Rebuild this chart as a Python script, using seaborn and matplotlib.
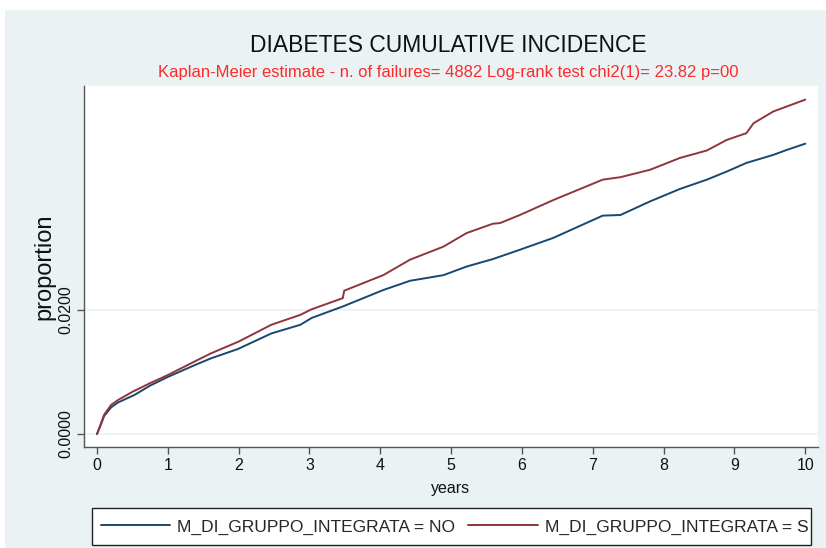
import numpy as np
import pandas as pd
import matplotlib
matplotlib.use("Agg")
import matplotlib.pyplot as plt
import seaborn as sns
from matplotlib.patches import Rectangle
from matplotlib.transforms import Bbox

# ---- data (Kaplan-Meier cumulative incidence) ----
t_no = [0, 0.05, 0.1, 0.2, 0.3, 0.53, 0.75, 1.0, 1.38, 1.61, 1.99, 2.46, 2.87, 3.03,
        3.48, 4.04, 4.42, 4.89, 5.22, 5.59, 5.97, 6.44, 7.14, 7.39, 7.81, 8.23, 8.61,
        8.89, 9.17, 9.55, 9.74, 10.0]
p_no = [0, 0.0014, 0.0029, 0.0043, 0.0051, 0.0063, 0.0078, 0.0092, 0.0111, 0.0122,
        0.0137, 0.0162, 0.0176, 0.0187, 0.0206, 0.0232, 0.0247, 0.0256, 0.0270, 0.0282,
        0.0297, 0.0316, 0.0352, 0.0353, 0.0375, 0.0395, 0.0410, 0.0423, 0.0437, 0.0450,
        0.0458, 0.0468]

t_si = [0, 0.05, 0.1, 0.2, 0.3, 0.5, 0.75, 1.0, 1.38, 1.61, 2.0, 2.46, 2.87, 3.03,
        3.47, 3.49, 4.04, 4.42, 4.89, 5.22, 5.59, 5.69, 5.97, 6.44, 7.14, 7.39, 7.81,
        8.23, 8.61, 8.89, 9.17, 9.27, 9.55, 9.74, 10.0]
p_si = [0, 0.0015, 0.0031, 0.0047, 0.0055, 0.0068, 0.0082, 0.0095, 0.0117, 0.0130,
        0.0149, 0.0176, 0.0192, 0.0201, 0.0219, 0.0231, 0.0256, 0.0281, 0.0302, 0.0324,
        0.0339, 0.0340, 0.0353, 0.0377, 0.0410, 0.0414, 0.0426, 0.0445, 0.0457, 0.0474,
        0.0485, 0.0501, 0.0520, 0.0528, 0.0539]

groups = ["M_DI_GRUPPO_INTEGRATA = NO", "M_DI_GRUPPO_INTEGRATA = SI"]
x_ticks = list(range(0, 11))
y_ticks = [0.0, 0.02]
y_tick_labels = ["0.0000", "0.0200"]

title = "DIABETES CUMULATIVE INCIDENCE"
subtitle = "Kaplan-Meier estimate - n. of failures= 4882 Log-rank test chi2(1)= 23.82 p=00"

df = pd.concat([
    pd.DataFrame({"years": t_no, "proportion": p_no, "group": groups[0]}),
    pd.DataFrame({"years": t_si, "proportion": p_si, "group": groups[1]}),
])

# ---- style ----
sns.set_style("white")
plt.rcParams["font.family"] = ["Liberation Sans", "DejaVu Sans"]

bg = "#eaf2f3"
palette = {groups[0]: "#1a476f", groups[1]: "#90353b"}

W, H = 826, 548
fig = plt.figure(figsize=(W / 100, H / 100), dpi=100, facecolor="white")
# stata graph region (light bluish gray), slight white border top/left
fig.patches.append(Rectangle((5 / W, 0), 1, 1 - 10 / H, transform=fig.transFigure,
                             facecolor=bg, edgecolor="none", zorder=-10))

ax = fig.add_axes([84 / W, 1 - 447 / H, (818 - 84) / W, (447 - 86) / H])
ax.set_facecolor("white")

sns.lineplot(data=df, x="years", y="proportion", hue="group", palette=palette,
             sort=False, estimator=None, linewidth=1.4, ax=ax, legend=False)

for yv in y_ticks:
    ax.axhline(yv, color=bg, linewidth=1.2, zorder=0)

ax.set_xlim(-0.184, 10.18)
ax.set_ylim(-0.0021, 0.0561)
ax.set_xticks(x_ticks)
ax.set_xticklabels([str(v) for v in x_ticks])
ax.set_yticks(y_ticks)
ax.set_yticklabels(y_tick_labels, rotation=90, va="center")

for side in ["top", "right"]:
    ax.spines[side].set_visible(False)
for side in ["left", "bottom"]:
    ax.spines[side].set_color("#555555")
    ax.spines[side].set_linewidth(1.0)

ax.tick_params(axis="both", direction="out", length=5, width=1, color="#555555",
               labelsize=11.5, labelcolor="#111111", pad=3)
ax.tick_params(axis="x", bottom=True)
ax.tick_params(axis="y", left=True)

ax.set_xlabel("years", fontsize=11.5, color="#111111", labelpad=6)
ax.set_ylabel("proportion", fontsize=17, color="#111111")
ax.yaxis.set_label_coords(-0.039, 0.5)

fig.text(448 / W, 1 - 46 / H, title, ha="center", va="center", fontsize=16.5, color="#111111")
fig.text(448 / W, 1 - 73 / H, subtitle, ha="center", va="center", fontsize=12, color="#ff2a2a")

# legend: fixed white box, entries clipped to it (as in the stata export)
box_x0, box_x1, box_y0, box_y1 = 92, 811, 508, 545
frame = Rectangle((box_x0 / W, 1 - box_y1 / H), (box_x1 - box_x0) / W, (box_y1 - box_y0) / H,
                  transform=fig.transFigure, facecolor="white", edgecolor="#222222",
                  linewidth=1.0, zorder=1)
fig.patches.append(frame)

handles = ax.get_lines()[:2]
leg = fig.legend(handles, groups, loc="center left", ncol=2,
                 bbox_to_anchor=(101 / W, 1 - 527 / H), frameon=False,
                 fontsize=12.5, handlelength=4.0, handletextpad=0.4,
                 borderpad=0, borderaxespad=0, columnspacing=0.75)
leg.set_zorder(2)
clip = Bbox.from_extents(box_x0 + 1, 0, box_x1 - 1, H)
for txt in leg.get_texts():
    txt.set_clip_box(clip)
    txt.set_clip_on(True)

fig.savefig("out.png", dpi=100, facecolor=fig.get_facecolor())
